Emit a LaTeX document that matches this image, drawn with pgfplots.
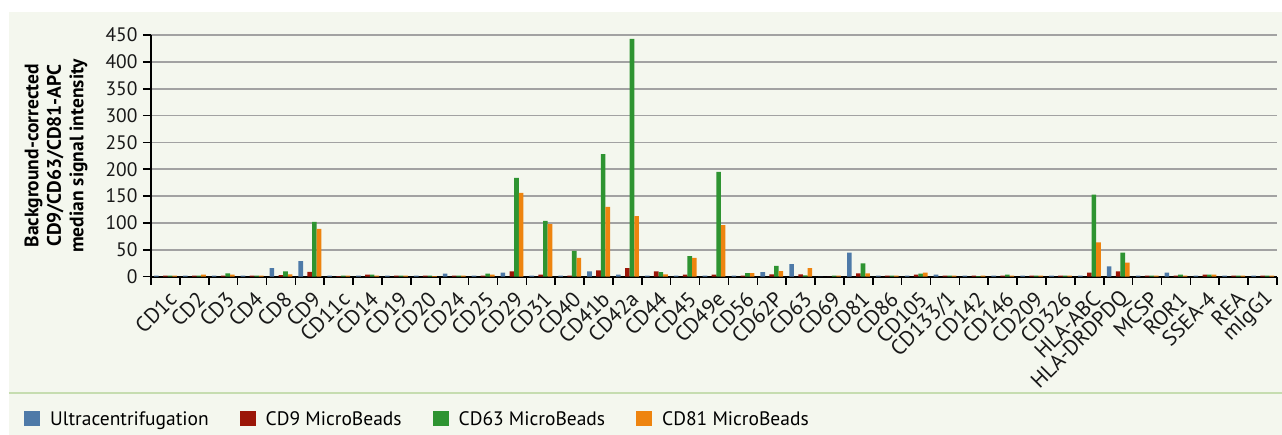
\documentclass[border=0pt]{standalone}
\usepackage{fontspec}
\setmainfont{PT Sans}
\usepackage{pgfplots}
\usepackage{pgfplotstable}
\pgfplotsset{compat=1.18}
\definecolor{cBlue}{HTML}{4E7AA8}
\definecolor{cRed}{HTML}{9B1608}
\definecolor{cGreen}{HTML}{2E9431}
\definecolor{cOrange}{HTML}{EE840F}
\definecolor{bgc}{HTML}{F4F7EE}
\definecolor{sepc}{HTML}{C6DDB0}
\definecolor{gridc}{HTML}{A2A2A2}

\pgfplotstableread{
x   uc    cdnine  cdsixtythree cdeightyone
0   2     2       2      2
1   2     2       2      4
2   2     2       6      4
3   2     2       2      2
4   16    3       10     4.5
5   29    9       102    89
6   2     1       2      2
7   2     4       4      2
8   2     2       2      2
9   2     2       2      1
10  5.6   2       2      2
11  2     2       5.6    3.7
12  7.4   10      184    156
13  2     4       104    98
14  2     2       48     35
15  10    12      228    130
16  4     16      443    113
17  2     10      8.7    4.5
18  2     4       38.5   35
19  2     4       195    96
20  2     2       6.5    6.5
21  8.7   4.5     20     10.6
22  23.6  4.5     2.5    16
23  0     0       2      2
24  45    6       25     6
25  2     2       2      2
26  2     4       5.6    7.4
27  4     2       2      2
28  2     2       1      2
29  2     2       4      2
30  2     2       2      2
31  2     2       2      2
32  2     7.4     153    64
33  19    10      45     26
34  2     2       2      2
35  7.4   2       3.7    2
36  2     3.7     3.7    3.7
37  2     2       2      2
38  2     2       2      2
}\datatable

\begin{document}
\begin{tikzpicture}[x=1pt,y=1pt]
\fill[white] (-151,-158.3) rectangle (1131,276.7);
\fill[bgc] (-142,-158.3) rectangle (1131,264.7);
\draw[sepc, line width=2pt] (-142,-116.3) -- (1131,-116.3);
\begin{axis}[
  at={(0,0)}, anchor=south west,
  scale only axis, width=1126pt, height=241.7pt,
  xmin=-0.5, xmax=38.5, ymin=0, ymax=450,
  ytick={0,50,...,450},
  xtick={-0.5,0.5,...,38.5},
  x tick label as interval,
  xticklabels={CD1c,CD2,CD3,CD4,CD8,CD9,CD11c,CD14,CD19,CD20,CD24,CD25,CD29,CD31,CD40,CD41b,CD42a,CD44,CD45,CD49e,CD56,CD62P,CD63,CD69,CD81,CD86,CD105,CD133/1,CD142,CD146,CD209,CD326,HLA-ABC,HLA-DRDPDQ,MCSP,ROR1,SSEA-4,REA,mIgG1},
  axis x line*=bottom, axis y line*=left,
  axis line style={line width=2pt, black},
  ymajorgrids, grid style={gridc, line width=1.8pt},
  tick align=outside, major tick length=8pt,
  tick style={line width=1.6pt, black},
  /pgf/number format/assume math mode=true,
  tick label style={font=\fontsize{19.5}{21}\selectfont, text=black!90},
  yticklabel style={xshift=-2pt},
  xticklabel style={font=\fontsize{21.5}{23}\selectfont, xshift=8pt, yshift=-10pt, rotate=45, anchor=east, inner sep=1pt},
  ylabel={Background-corrected\\CD9/CD63/CD81-APC\\median signal intensity},
  ylabel style={at={(axis description cs:-0.0843,0.5)}, anchor=center, align=center, font=\fontsize{19.5}{22.5}\selectfont\bfseries},
  ybar, bar width=4.6pt,
  legend columns=4,
  legend image code/.code={\fill[#1] (0pt,-7.5pt) rectangle (16pt,7.5pt);},
  legend style={at={(axis description cs:-0.1128,-0.5887)}, anchor=west, draw=none, fill=none, inner sep=0pt,
    font=\fontsize{19.5}{21}\selectfont,
    /tikz/every odd column/.append style={column sep=8pt},
    /tikz/every even column/.append style={column sep=29pt}},
]
\addplot[fill=cBlue, draw=none, bar shift=-9pt] table[x=x, y=uc] {\datatable};
\addplot[fill=cRed, draw=none, bar shift=0pt] table[x=x, y=cdnine] {\datatable};
\addplot[fill=cGreen, draw=none, bar shift=4.6pt] table[x=x, y=cdsixtythree] {\datatable};
\addplot[fill=cOrange, draw=none, bar shift=9.2pt] table[x=x, y=cdeightyone] {\datatable};
\legend{Ultracentrifugation, CD9 MicroBeads, CD63 MicroBeads, CD81 MicroBeads}
\end{axis}
\pgfresetboundingbox
\useasboundingbox (-151,-158.3) rectangle (1131,276.7);
\end{tikzpicture}
\end{document}
